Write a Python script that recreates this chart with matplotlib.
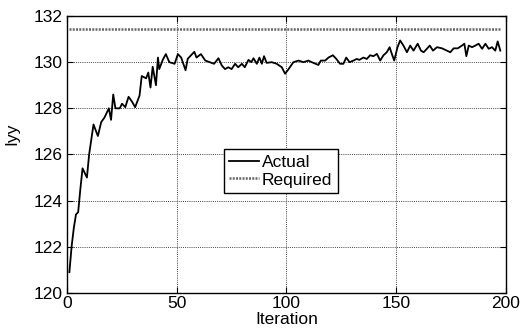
import matplotlib
matplotlib.use("Agg")
import matplotlib.pyplot as plt

iterations = [1, 2, 3, 4, 5, 6, 7, 8, 9, 10, 12, 14, 15.5, 17, 19, 20, 21, 22, 24, 25,
              26.5, 28, 29.5, 31, 33, 34, 36, 37, 38, 39, 40.5, 41.4, 42, 43.6, 45, 46.6,
              49, 50.5, 52, 54, 55, 58, 59, 61, 63, 65, 67, 69, 70.5, 72, 73.5, 75, 76.6,
              78, 79.7, 81, 82.7, 84, 85, 86.5, 87.7, 88.8, 89.8, 91, 93.3, 95.6, 97.9,
              99.4, 101, 103.2, 105.5, 107.8, 110, 112.3, 114.6, 115.7, 117.7, 119.2,
              121.2, 122.7, 124.5, 126, 127.3, 128.8, 130.6, 132.1, 133.3, 135.1, 136.7,
              138.2, 139.7, 141.3, 142.8, 144.3, 145.8, 147.1, 148.1, 149.2, 150.7, 151.9,
              153.4, 155, 156.5, 158, 159.9, 161.4, 162.6, 164.1, 165.4, 166.9, 168.7,
              171, 173.3, 174.8, 176.3, 178.2, 180.1, 181.2, 182.1, 183.2, 184.7, 186.2,
              187.7, 189.3, 190.8, 192.3, 193.8, 195.3, 196.4, 197.6]
actual = [120.9, 122.0, 122.8, 123.4, 123.5, 124.5, 125.4, 125.2, 125.0, 126.0, 127.3,
          126.8, 127.4, 127.6, 128.0, 127.5, 128.6, 128.0, 128.0, 128.2, 128.05, 128.5,
          128.3, 128.05, 128.55, 129.4, 129.3, 129.55, 128.9, 129.8, 129.0, 130.2, 129.7,
          130.1, 130.35, 130.0, 129.93, 130.35, 130.2, 129.65, 130.15, 130.45, 130.2,
          130.35, 130.07, 130.0, 129.93, 130.17, 129.86, 129.7, 129.78, 129.7, 129.93,
          129.78, 129.93, 129.78, 130.1, 130.0, 130.17, 129.93, 130.2, 129.93, 130.26,
          129.97, 130.0, 129.93, 129.78, 129.5, 129.7, 130.0, 130.07, 130.0, 130.07,
          129.97, 129.88, 130.07, 130.07, 130.2, 130.3, 130.15, 129.93, 129.93, 130.2,
          130.0, 130.07, 130.14, 130.1, 130.2, 130.14, 130.3, 130.26, 130.36, 130.07,
          130.3, 130.43, 130.65, 130.36, 130.07, 130.65, 130.94, 130.72, 130.43, 130.72,
          130.5, 130.8, 130.5, 130.43, 130.58, 130.72, 130.5, 130.65, 130.6, 130.5,
          130.43, 130.6, 130.6, 130.72, 130.8, 130.26, 130.72, 130.65, 130.72, 130.8,
          130.58, 130.8, 130.58, 130.65, 130.5, 130.9, 130.5]
required_x = [1, 198]
required = [131.45, 131.45]

xticks = [0, 50, 100, 150, 200]
yticks = [120, 122, 124, 126, 128, 130, 132]

plt.rcParams['font.family'] = ['Liberation Sans', 'DejaVu Sans']

fig = plt.figure(figsize=(5.25, 3.34), dpi=100)
ax = fig.add_axes([0.128, 0.123, 0.835, 0.829])

ax.plot(iterations, actual, color='black', lw=1.3, label='Actual')
ax.plot(required_x, required, color='#666666', lw=1.8, ls=(0, (0.8, 0.5)), label='Required')

ax.set_xlim(0, 200)
ax.set_ylim(120, 132)
ax.set_xticks(xticks)
ax.set_yticks(yticks)
ax.grid(True, color='#444444', ls=(0, (1, 1.2)), lw=0.7)
ax.tick_params(direction='in', top=True, right=True, labelsize=12.5, length=4, color='black')
ax.tick_params(axis='x', pad=2)
ax.tick_params(axis='y', pad=3)
for s in ax.spines.values():
    s.set_color('black')
    s.set_linewidth(1.0)

ax.set_xlabel('Iteration', fontsize=12.5)
ax.xaxis.set_label_coords(0.5, -0.068)
ax.set_ylabel('Iyy', fontsize=12.5)
ax.yaxis.set_label_coords(-0.109, 0.576)

leg = ax.legend(loc='center', bbox_to_anchor=(0.487, 0.44), fontsize=12.5, frameon=True,
                fancybox=False, edgecolor='black', framealpha=1, handlelength=1.7,
                handletextpad=0.2, borderpad=0.3, labelspacing=0.15, borderaxespad=0)
leg.get_frame().set_linewidth(1.0)

fig.savefig('out.png', dpi=100)
